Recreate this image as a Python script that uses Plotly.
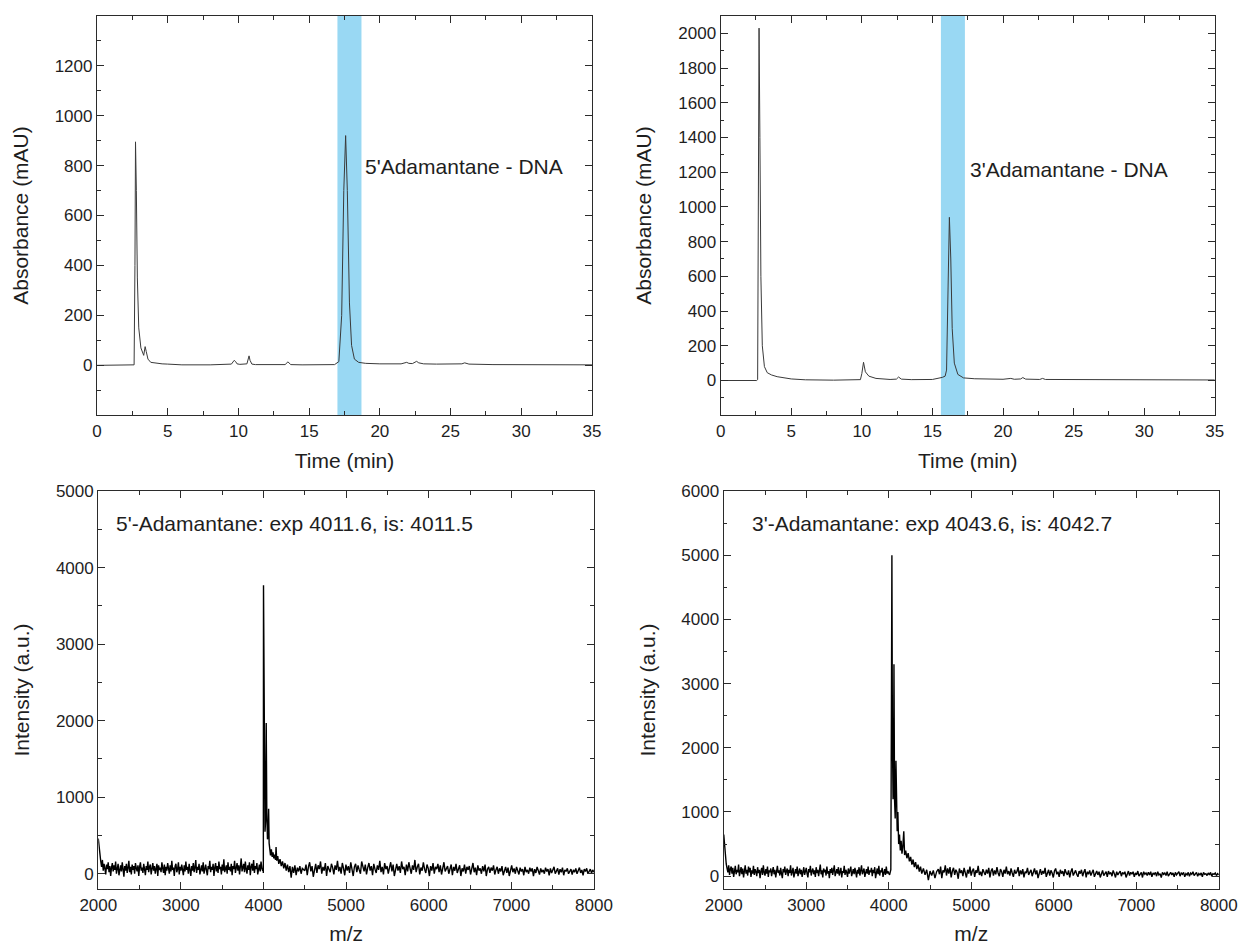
import numpy as np
import plotly.graph_objects as go

# ---- HPLC traces (time in min, absorbance in mAU) ----
t_5ad = [0, 2.5, 2.62, 2.68, 2.72, 2.78, 2.85, 2.95, 3.1, 3.3, 3.4, 3.48, 3.6, 3.8, 4.2,
         4.6, 5.0, 5.5, 6, 8, 9.5, 9.7, 9.8, 9.9, 10.1, 10.6, 10.75, 10.82, 10.95, 11.2,
         12, 13.3, 13.5, 13.7, 14.5, 16.8, 17.1, 17.3, 17.45, 17.58, 17.7, 17.85, 18.0,
         18.2, 18.5, 19, 20, 21.5, 21.9, 22.05, 22.3, 22.6, 22.75, 23.1, 24, 25.8, 26.0,
         26.3, 28, 35]
abs_5ad = [0, 0, 2, 400, 895, 700, 350, 150, 70, 40, 75, 55, 25, 12, 8,
           6, 5, 3, 2, 2, 5, 20, 15, 6, 4, 6, 38, 20, 5, 3,
           2, 3, 14, 3, 2, 3, 15, 200, 700, 920, 700, 250, 80,
           25, 12, 8, 6, 6, 12, 8, 7, 16, 10, 6, 5, 6, 10,
           5, 3, 2]
band_5ad = (17.0, 18.7)

t_3ad = [0, 2.55, 2.62, 2.67, 2.72, 2.78, 2.85, 2.95, 3.1, 3.3, 3.6, 4.0, 4.5, 5.0, 6.0,
         8.0, 9.9, 10.0, 10.12, 10.25, 10.5, 11.0, 12.0, 12.45, 12.6, 12.8, 13.5, 15.0,
         15.7, 15.9, 16.0, 16.1, 16.2, 16.3, 16.4, 16.55, 16.8, 17.2, 18, 20, 20.4, 20.55,
         20.8, 21.25, 21.4, 21.6, 22.6, 22.8, 23.0, 25, 30, 35]
abs_3ad = [0, 0, 5, 900, 2030, 1400, 600, 200, 80, 45, 32, 22, 14, 9, 4,
           2, 5, 40, 105, 50, 25, 12, 6, 8, 20, 8, 5, 6,
           18, 25, 60, 500, 940, 700, 300, 100, 35, 15, 10, 7, 8, 12,
           7, 9, 17, 8, 6, 12, 6, 6, 4, 3]
band_3ad = (15.6, 17.3)

# ---- MALDI spectra (m/z, intensity) ----
# 5'-adamantane: baseline 2000-3990, main peak cluster, baseline 4500-8000
ms5_front = [460, 330, 220, 160, 90, 180, 40, 130, 70, -10, 120, 60, 150, 20, 100, -30, 80, 140, 30, 110,
             50, 160, 0, 90, 130, -20, 70, 110, 30, 150, 60, -40, 100, 40, 130, 10, 80, 170, 20, 90,
             -10, 120, 50, 100, 0, 140, 70, 30, 110, -30, 90, 150, 40, 80, 10, 130, 60, -20, 100, 50,
             160, 20, 90, 120, -10, 70, 140, 40, 100, 0, 60, 130, -30, 110, 50, 80, 20, 150, 70, 10,
             120, -20, 90, 40, 140, 60, 0, 110, 30, 170, 50, 80, -30, 100, 130, 20, 60, 150, -10, 90,
             40, 120, 70, -20, 110, 30, 160, 50, 90, 0, 130, 60, -30, 100, 40, 140, 20, 80, 180, 10,
             90, 50, 130, -10, 70, 110, 30, 150, 0, 80, 120, 40, -20, 100, 60, 170, 20, 90, 50, 130,
             -30, 80, 140, 30, 100, 10, 160, 60, 90, -10, 120, 40, 190, 20, 70, 110, 0, 150, 50, 90,
             30, 130, -20, 100, 60, 170, 10, 80, 140, 40, 110, -10, 90, 200, 30, 70, 130, 20, 160, 60,
             0, 110, 50, 150, -20, 90, 130, 40, 180, 10, 100, 60, 140, -10, 80, 120, 30, 160, 70, 40]
ms5_peak_mz = [3994, 3998, 4000, 4004, 4010, 4018, 4026, 4033, 4040, 4048, 4056, 4062,
               4068, 4076, 4085, 4095, 4105, 4115, 4125, 4135, 4145, 4152, 4160, 4172,
               4185, 4200, 4215, 4230, 4245, 4260, 4275, 4290, 4305, 4320, 4335, 4350,
               4365, 4380, 4395, 4410, 4425, 4440, 4455, 4470, 4485]
ms5_peak = [70, 10, 3770, 2400, 900, 550, 700, 1970, 800, 450, 500, 850,
            400, 300, 240, 320, 220, 280, 200, 250, 180, 350, 170, 230,
            130, 190, 100, 160, 70, 140, 40, 120, 20, 100, -50, 90,
            10, 110, -20, 80, 30, 100, 0, 70, 50]
ms5_tail = [40, 120, -20, 90, 150, 30, 100, -40, 70, 130, 10, 110, 60, 160, 0, 90, 40, 140, -30, 100,
            60, 20, 130, 80, -10, 110, 50, 170, 30, 90, 0, 140, 70, -20, 120, 40, 100, 10, 150, 60,
            -30, 90, 130, 20, 110, 50, 0, 160, 70, 30, 120, -10, 80, 140, 40, 100, -20, 130, 60, 10,
            110, 50, 170, 20, 90, -10, 140, 60, 100, 0, 80, 150, 30, 120, -30, 70, 130, 40, 100, 10,
            160, 60, 90, -20, 120, 30, 150, 70, 0, 110, 50, 180, 20, 90, 130, -10, 80, 40, 150, 60,
            10, 120, 70, -30, 100, 40, 140, 0, 90, 60, 130, 20, 110, -10, 80, 150, 30, 70, 100, 0,
            60, 120, -20, 90, 40, 130, 10, 80, 110, -30, 70, 30, 120, 0, 90, 50, 100, -10, 60, 140,
            20, 80, -20, 110, 40, 70, 0, 100, 30, 120, -30, 60, 90, 10, 80, 40, 110, -10, 50, 90,
            0, 70, 30, 100, -20, 60, 90, 10, 80, -30, 50, 110, 20, 70, 0, 90, 40, -10, 80, 30,
            60, -20, 90, 20, 50, 0, 80, 30, 70, -30, 60, 10, 90, 40, -10, 70, 20, 50, 0, 80,
            30, 60, -20, 70, 10, 50, 90, 0, 40, 70, -10, 60, 20, 80, -20, 50, 30, 70, 0, 40,
            60, -10, 50, 20, 70, 0, 40, 80, 10, 50, -20, 60, 30, 70, 0, 40, 60, 10, 50, 20]

# 3'-adamantane
ms3_front = [650, 480, 300, 190, 120, 60, 170, 20, 110, 150, 40, 130, -10, 90, 160, 30, 100, 60, 180, 0,
             90, 140, 30, 120, -20, 80, 170, 40, 100, 10, 150, 60, 130, -10, 90, 40, 160, 20, 110, 70,
             0, 140, 50, 100, -30, 80, 130, 20, 170, 60, 10, 110, 40, 150, -10, 90, 60, 120, 0, 80,
             140, 30, 100, -20, 70, 160, 50, 90, 10, 130, 40, -30, 110, 60, 150, 20, 80, 120, 0, 100,
             50, 170, 10, 90, 130, -20, 70, 110, 40, 150, 0, 80, 120, 30, 100, -10, 60, 140, 20, 90,
             130, 40, -20, 110, 60, 160, 10, 80, 120, 30, 90, -10, 140, 50, 100, 0, 70, 180, 30, 90,
             -20, 120, 60, 100, 10, 150, 40, 80, -30, 110, 50, 130, 20, 90, 170, 0, 70, 110, 40, 140,
             10, 90, 130, -20, 80, 50, 160, 20, 100, 60, -10, 120, 40, 90, 150, 0, 80, 110, 30, 130,
             60, -20, 100, 40, 140, 10, 90, 170, 30, 80, 120, -10, 70, 110, 40, 150, 20, 90, 60, 130,
             0, 100, 50, 140, -30, 80, 120, 30, 160, 10, 90, 60, 130, -10, 70, 110, 20, 150, 40, 80]
ms3_peak_mz = [3994, 4010, 4025, 4032, 4038, 4044, 4052, 4058, 4063, 4070, 4078, 4087,
               4095, 4102, 4110, 4120, 4130, 4140, 4150, 4160, 4170, 4182, 4192, 4205,
               4220, 4235, 4250, 4265, 4280, 4295, 4310, 4325, 4340, 4355, 4370, 4385,
               4400, 4420, 4440, 4460, 4480, 4500, 4520, 4540, 4560, 4580]
ms3_peak = [60, 20, 100, 2500, 5000, 2200, 1200, 1600, 3300, 1200, 900, 1800,
            800, 700, 1000, 500, 650, 400, 550, 350, 450, 700, 330, 400,
            280, 360, 230, 300, 180, 260, 140, 220, 110, 180, 70, 150,
            40, 120, 20, 100, -60, 80, 10, 90, -30, 70]
ms3_tail = [110, 30, 150, -30, 90, 60, 170, 10, 120, 40, 140, -20, 80, 130, 20, 100, 60, -40, 120, 50,
            90, 0, 130, 60, -20, 100, 40, 150, 10, 80, 120, -10, 90, 50, 160, 20, 70, 0, 110, 60,
            20, 100, 40, 130, -20, 80, 120, 10, 90, 30, 140, 50, 0, 110, 70, -10, 100, 40, 150, 30,
            80, 10, 120, 50, -10, 100, 40, 70, 140, 0, 90, 30, 110, -20, 70, 50, 130, 20, 80, 100,
            0, 60, 120, 30, 90, -30, 70, 110, 20, 80, 40, 130, -10, 60, 100, 10, 90, 50, -20, 80,
            120, 30, 70, -10, 100, 40, 80, 0, 110, 50, 20, 90, -20, 70, 120, 10, 60, 90, 30, -10,
            80, 40, 100, 0, 60, 110, -20, 70, 30, 90, 10, 60, 100, -10, 50, 80, 20, 70, -20, 60,
            90, 10, 50, 70, -10, 80, 30, 60, 0, 90, 40, -20, 70, 20, 50, 80, 0, 60, 30, 70,
            -20, 50, 80, 10, 60, 30, 70, -10, 50, 20, 80, 0, 40, 60, -20, 70, 30, 50, 10, 60,
            20, 70, -10, 50, 30, 60, 0, 70, 20, 40, -20, 60, 30, 50, 10, 70, 0, 40, 60, 20,
            50, -10, 60, 20, 40, 70, 0, 50, 30, 60, -10, 40, 20, 60, 0, 50, 30, 70, 10, 40,
            60, 0, 40, 20, 50, -10, 60, 30, 40, 10, 50, 20, 60, 0, 40, 30, 50, 10, 40, 20]


def spectrum(front, peak_mz, peak, tail, front_end, tail_start):
    # channels of the baseline segments are evenly spaced in m/z
    mz = np.concatenate([np.linspace(2000, front_end, len(front)), peak_mz,
                         np.linspace(tail_start, 8000, len(tail))])
    return mz, list(front) + list(peak) + list(tail)


ms5_mz, ms5_int = spectrum(ms5_front, ms5_peak_mz, ms5_peak, ms5_tail, 3990, 4500)
ms3_mz, ms3_int = spectrum(ms3_front, ms3_peak_mz, ms3_peak, ms3_tail, 3990, 4600)

FONT = "Liberation Sans, Arial, sans-serif"
INK = "#1e1e1e"
BAND = "#99d8f3"

fig = go.Figure()
fig.add_trace(go.Scatter(x=t_5ad, y=abs_5ad, mode="lines", line=dict(color="#3a3a3a", width=1),
                         xaxis="x", yaxis="y"))
fig.add_trace(go.Scatter(x=t_3ad, y=abs_3ad, mode="lines", line=dict(color="#3a3a3a", width=1),
                         xaxis="x2", yaxis="y2"))
fig.add_trace(go.Scatter(x=ms5_mz, y=ms5_int, mode="lines", line=dict(color="black", width=1.4),
                         xaxis="x3", yaxis="y3"))
fig.add_trace(go.Scatter(x=ms3_mz, y=ms3_int, mode="lines", line=dict(color="black", width=1.4),
                         xaxis="x4", yaxis="y4"))


def axis(title, domain, rng, dtick, minor, anchor, standoff):
    return dict(domain=domain, range=rng, dtick=dtick, tick0=0, anchor=anchor, automargin=False,
                showline=True, linecolor="#2b2b2b", linewidth=1.3, mirror="allticks",
                ticks="inside", ticklen=7, tickwidth=1.1, tickcolor="#2b2b2b",
                minor=dict(dtick=minor, ticks="inside", ticklen=3.5, tickwidth=1, tickcolor="#2b2b2b"),
                showgrid=False, zeroline=False,
                tickfont=dict(family=FONT, size=17, color=INK),
                title=dict(text=title, font=dict(family=FONT, size=21, color=INK), standoff=standoff))


top_y = [0.5608, 0.9831]
bot_y = [0.0593, 0.4804]

fig.update_layout(
    width=1241, height=945, margin=dict(l=0, r=0, t=0, b=0),
    paper_bgcolor="white", plot_bgcolor="white", showlegend=False,
    xaxis=axis("Time (min)", [0.0782, 0.4770], [0, 35], 5, 2.5, "y", 13),
    yaxis=axis("Absorbance (mAU)", top_y, [-199, 1399], 200, 100, "x", 20),
    xaxis2=axis("Time (min)", [0.5807, 0.9789], [0, 35], 5, 2.5, "y2", 13),
    yaxis2=axis("Absorbance (mAU)", top_y, [-199, 2100], 200, 100, "x2", 20),
    xaxis3=axis("m/z", [0.0792, 0.4786], [2000, 8000], 1000, 500, "y3", 16),
    yaxis3=axis("Intensity (a.u.)", bot_y, [-199, 5000], 1000, 500, "x3", 20),
    xaxis4=axis("m/z", [0.5832, 0.9821], [2000, 8000], 1000, 500, "y4", 16),
    yaxis4=axis("Intensity (a.u.)", bot_y, [-199, 6000], 1000, 500, "x4", 20),
)

# highlighted collection windows
fig.add_shape(type="rect", xref="x", yref="y domain", x0=band_5ad[0], x1=band_5ad[1], y0=0, y1=1,
              fillcolor=BAND, line_width=0, layer="below")
fig.add_shape(type="rect", xref="x2", yref="y2 domain", x0=band_3ad[0], x1=band_3ad[1], y0=0, y1=1,
              fillcolor=BAND, line_width=0, layer="below")

labels = [
    ("x", "y", 18.8, 796, "5'Adamantane - DNA"),
    ("x2", "y2", 17.52, 1216, "3'Adamantane - DNA"),
    ("x3", "y3", 2196, 4580, "5'-Adamantane: exp 4011.6, is: 4011.5"),
    ("x4", "y4", 2321, 5500, "3'-Adamantane: exp 4043.6, is: 4042.7"),
]
for xr, yr, x, y, txt in labels:
    fig.add_annotation(xref=xr, yref=yr, x=x, y=y, text=txt, showarrow=False,
                       xanchor="left", yanchor="middle",
                       font=dict(family=FONT, size=21, color=INK))

# drop the browser's default 8px body margin so the figure fills the window
fig.write_html("out.html", config={"displayModeBar": False},
               post_script="document.body.style.margin = '0px';")
